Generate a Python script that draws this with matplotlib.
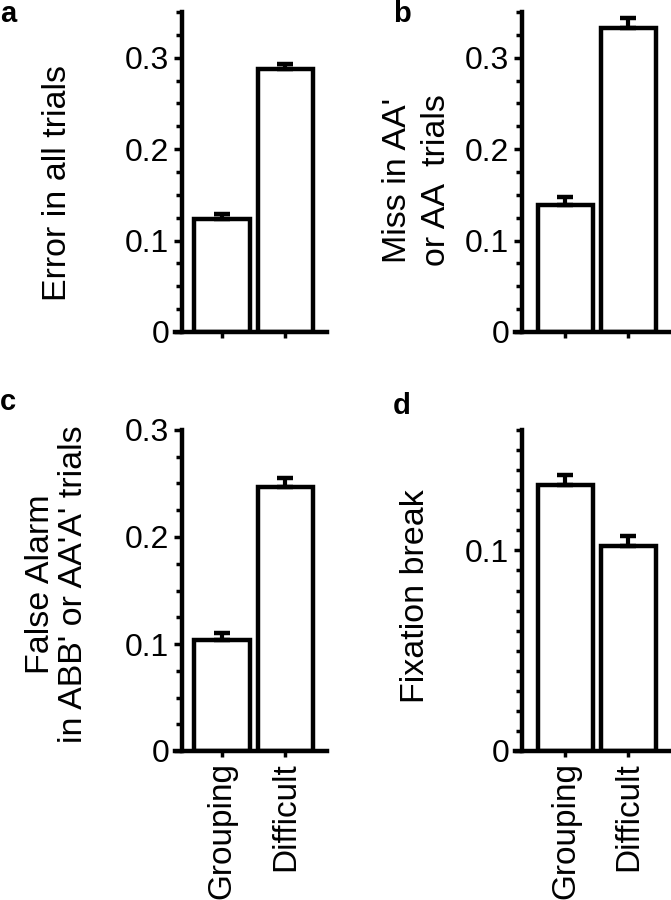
import matplotlib
matplotlib.use("Agg")
import matplotlib.pyplot as plt
from matplotlib.ticker import MultipleLocator, FixedLocator

plt.rcParams['font.family'] = ['Liberation Sans', 'DejaVu Sans']

conditions = ["Grouping", "Difficult"]

error_all = [0.124, 0.288]
error_all_sem = [0.005, 0.005]

miss = [0.139, 0.332]
miss_sem = [0.009, 0.011]

false_alarm = [0.104, 0.247]
false_alarm_sem = [0.006, 0.008]

fix_break = [0.1326, 0.102]
fix_break_sem = [0.005, 0.005]

W, H = 671, 900
fig = plt.figure(figsize=(W / 100, H / 100), dpi=100)


def px_axes(x0, x1, y0, y1):
    return fig.add_axes([x0 / W, 1 - y1 / H, (x1 - x0) / W, (y1 - y0) / H])


def draw_panel(ax, vals, sems, ymax, majors, minor_step, xlim, spine_x, show_labels):
    x = [0, 1]
    ax.bar(x, vals, width=0.88, color="white", edgecolor="black", linewidth=3.2, zorder=2)
    ax.errorbar(x, vals, yerr=[[0, 0], sems], fmt="none", ecolor="black",
                elinewidth=3, capsize=5.5, capthick=3.2, zorder=3)
    ax.set_xlim(*xlim)
    ax.set_ylim(0, ymax)
    ax.spines["top"].set_visible(False)
    ax.spines["right"].set_visible(False)
    ax.spines["left"].set_position(("data", spine_x))
    ax.spines["left"].set_linewidth(3.2)
    ax.spines["bottom"].set_linewidth(3.2)
    ax.spines["left"].set_zorder(4)
    ax.spines["bottom"].set_zorder(4)
    ax.yaxis.set_major_locator(FixedLocator(majors))
    ax.set_yticklabels(["0" if m == 0 else f"{m:.1f}" for m in majors])
    ax.yaxis.set_minor_locator(MultipleLocator(minor_step))
    ax.tick_params(axis="y", which="major", length=6, width=2.5, labelsize=23, pad=3)
    ax.tick_params(axis="y", which="minor", length=4, width=2.5)
    ax.set_xticks(x)
    ax.tick_params(axis="x", length=4, width=2.5, labelsize=24, pad=4)
    if show_labels:
        ax.set_xticklabels(conditions, rotation=90)
    else:
        ax.set_xticklabels([])


ax_a = px_axes(175, 327, 12, 332)
draw_panel(ax_a, error_all, error_all_sem, 0.35, [0, 0.1, 0.2, 0.3], 0.025,
           (-0.74, 1.654), -0.63, False)

ax_b = px_axes(515, 670, 12, 332)
draw_panel(ax_b, miss, miss_sem, 0.35, [0, 0.1, 0.2, 0.3], 0.025,
           (-0.80, 1.66), -0.69, False)

ax_c = px_axes(175, 327, 430, 751)
draw_panel(ax_c, false_alarm, false_alarm_sem, 0.3, [0, 0.1, 0.2, 0.3], 0.025,
           (-0.74, 1.654), -0.63, True)

ax_d = px_axes(515, 670, 430, 751)
draw_panel(ax_d, fix_break, fix_break_sem, 0.16, [0, 0.1], 0.01,
           (-0.80, 1.66), -0.69, True)

# y labels
lab = dict(ha="center", va="center", rotation=90, fontsize=24.5, multialignment="center")
fig.text(58 / W, 1 - 183 / H, "Error in all trials", **lab)
fig.text(417 / W, 1 - 180 / H, "Miss in AA'\nor AA  trials", linespacing=1.3, **lab)
fig.text(57 / W, 1 - 584 / H, "False Alarm\nin ABB' or AA'A' trials", linespacing=1.05, **lab)
fig.text(415 / W, 1 - 596 / H, "Fixation break", **lab)

# panel letters
let = dict(ha="left", va="top", fontsize=21, fontweight="bold")
fig.text(0 / W, 1 - 0 / H, "a", **let)
fig.text(393 / W, 1 - 0 / H, "b", **let)
fig.text(0 / W, 1 - 388 / H, "c", **let)
fig.text(393 / W, 1 - 392 / H, "d", **let)

fig.savefig("out.png", dpi=100)
